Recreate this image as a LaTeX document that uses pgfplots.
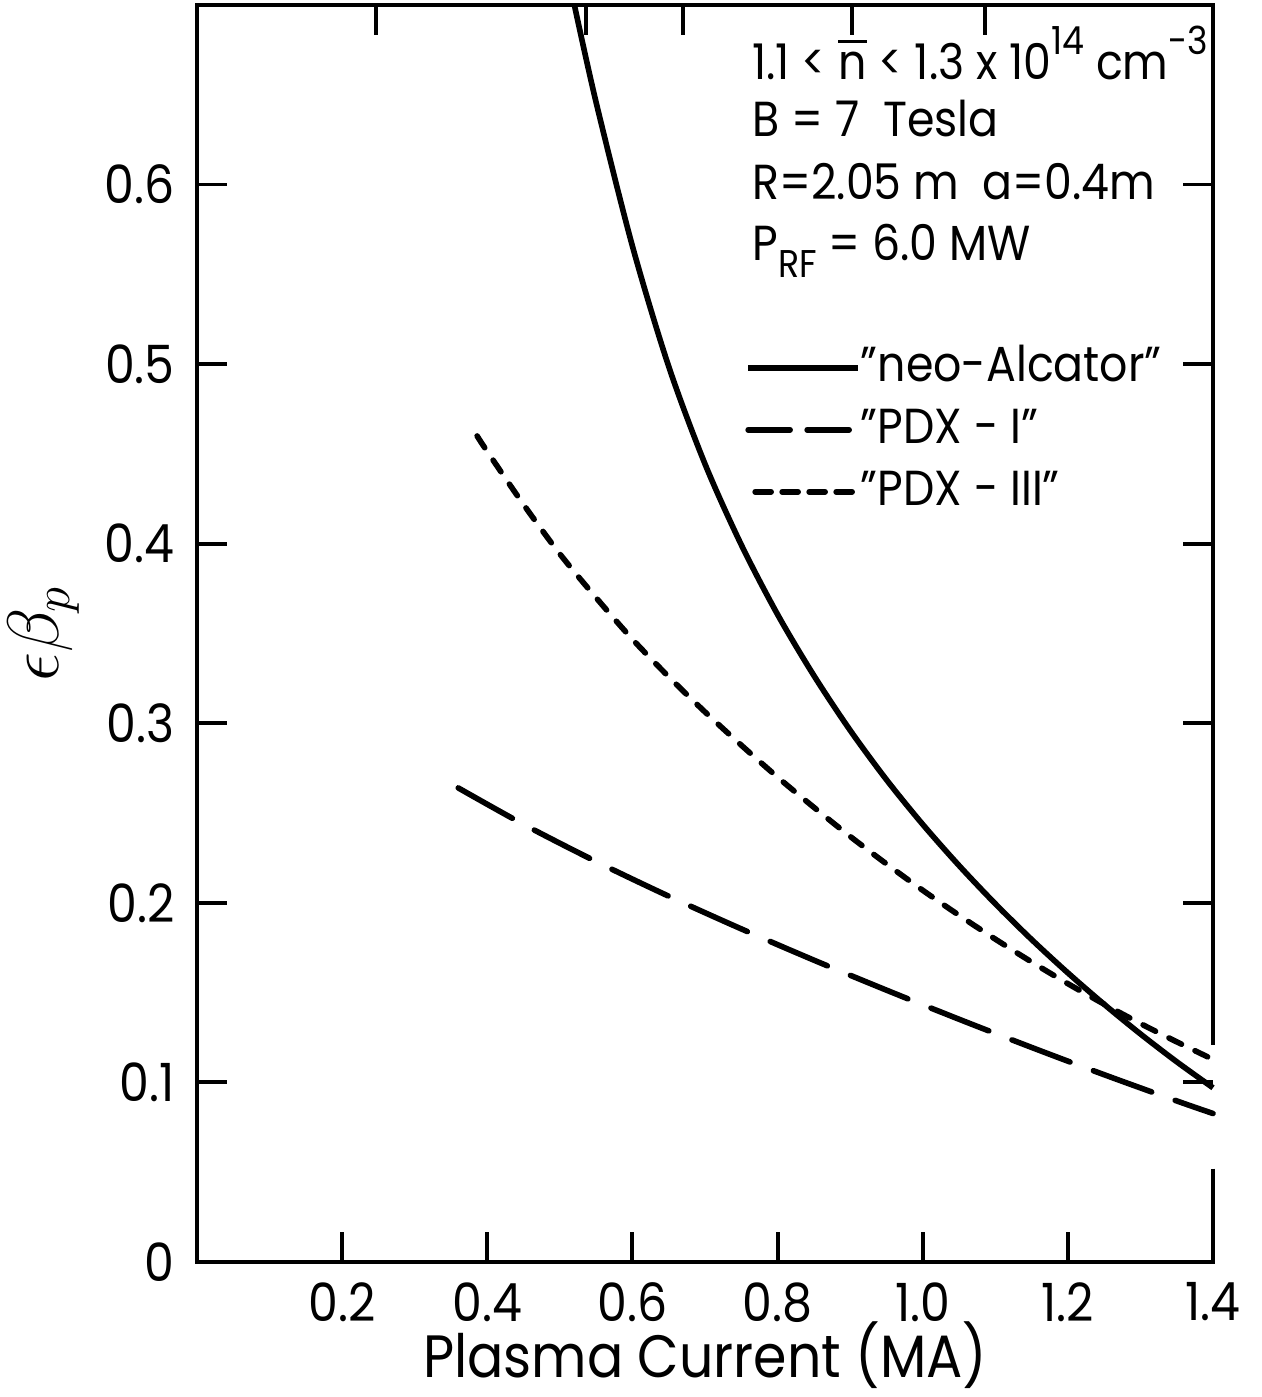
\documentclass[border=0pt]{standalone}
\usepackage{fontspec}
\setmainfont{Poppins}[FakeStretch=0.9]
\usepackage{pgfplots}
\pgfplotsset{compat=1.18}
\newcommand{\nbar}{{\setbox0\hbox{n}\rlap{\raisebox{1.3\ht0}{\rule{\wd0}{0.07em}}}\box0}}
\newcommand{\sups}[1]{\raisebox{0.5em}{\fontsize{11}{12}\selectfont #1}}
\newcommand{\subs}[1]{\raisebox{-0.35em}{\fontsize{11}{12}\selectfont #1}}

\pgfplotstableread{
x y
0.520 0.700
0.550 0.6457
0.600 0.5657
0.650 0.4987
0.700 0.4444
0.750 0.3994
0.800 0.3606
0.850 0.3266
0.900 0.2961
0.950 0.2686
1.000 0.2437
1.050 0.2208
1.100 0.1995
1.150 0.1796
1.200 0.1610
1.250 0.1435
1.300 0.1270
1.350 0.1115
1.400 0.0970
}\neoalc

\pgfplotstableread{
x y
0.360 0.2640
0.450 0.2437
0.550 0.2230
0.650 0.2037
0.750 0.1855
0.850 0.1681
0.950 0.1514
1.050 0.1352
1.150 0.1195
1.250 0.1043
1.350 0.0897
1.400 0.0827
}\pdxone

\pgfplotstableread{
x y
0.386 0.4600
0.400 0.4513
0.450 0.4218
0.500 0.3943
0.550 0.3699
0.600 0.3468
0.650 0.3259
0.700 0.3063
0.750 0.2878
0.800 0.2700
0.850 0.2532
0.900 0.2370
0.950 0.2217
1.000 0.2070
1.050 0.1931
1.100 0.1798
1.150 0.1671
1.200 0.1550
1.250 0.1436
1.300 0.1328
1.350 0.1226
1.400 0.1128
}\pdxthree

\begin{document}
\begin{tikzpicture}
\begin{axis}[name=ax, scale only axis, width=10.16cm, height=12.57cm,
  xmin=0, xmax=1.4, ymin=0, ymax=0.7, clip=false,
  axis line style={draw=none},
  tick align=inside, major tick length=0.3cm,
  every tick/.style={black, line width=1.1pt},
  xtick pos=left, ytick pos=both,
  xtick={0.2,0.4,0.6,0.8,1.0,1.2,1.4}, xticklabels={0.2,0.4,0.6,0.8,1.0,1.2,1.4},
  ytick={0,0.1,0.2,0.3,0.4,0.5,0.6}, yticklabels={0,0.1,0.2,0.3,0.4,0.5,0.6},
  ticklabel style={font=\fontsize{15}{18}\selectfont},
  /pgf/number format/assume math mode=true,
  xticklabel style={yshift=-0.08cm},
  yticklabel style={xshift=-0.1cm},
  xlabel={Plasma Current (MA)},
  xlabel style={font=\fontsize{17}{20}\selectfont, at={(axis description cs:0.5,-0.0745)}, anchor=center},
  ylabel={$\epsilon\beta_{p}$},
  ylabel style={font=\fontsize{20}{22}\selectfont, inner sep=0pt, at={(axis description cs:-0.151,0.5)}, anchor=center},
  legend style={draw=none, fill=none, at={(axis description cs:0.539,0.662)}, anchor=west,
    inner sep=0pt, font=\fontsize{14}{16}\selectfont, row sep=0.1cm,
    nodes={inner sep=0pt, text height=0.4cm, text depth=0.12cm}},
  legend cell align=left,
]
\addplot[black, line width=1.6pt, smooth,
  legend image code/.code={\draw[black, line width=1.6pt] (0cm,0cm) -- (1.1cm,0cm);}]
  table[x=x,y=y] {\neoalc};
\addlegendentry{"neo-Alcator"}
\addplot[black, line width=1.6pt, smooth, line cap=round, dash pattern=on 0.62cm off 0.25cm,
  legend image code/.code={\draw[black, line width=1.6pt, line cap=round, dash pattern=on 0.42cm off 0.17cm] (0cm,0cm) -- (1.1cm,0cm);}]
  table[x=x,y=y] {\pdxone};
\addlegendentry{"PDX - I"}
\addplot[black, line width=1.6pt, smooth, line cap=round, dash pattern=on 0.14cm off 0.15cm,
  legend image code/.code={\draw[black, line width=1.6pt, line cap=round, dash pattern=on 0.16cm off 0.11cm] (0.07cm,0cm) -- (1.1cm,0cm);}]
  table[x=x,y=y] {\pdxthree};
\addlegendentry{"PDX - III"}
\draw[line width=1.1pt] (rel axis cs:1,0.0743) -- (rel axis cs:1,0) -- (rel axis cs:0,0)
  -- (rel axis cs:0,1) -- (rel axis cs:1,1) -- (rel axis cs:1,0.1729);
\node[anchor=base west, inner sep=0pt, font=\fontsize{14}{16}\selectfont] at (axis description cs:0.546,0.941)
  {1.1 < \nbar{} < 1.3 x 10\sups{14} cm\sups{-3}};
\node[anchor=base west, inner sep=0pt, font=\fontsize{14}{16}\selectfont] at (axis description cs:0.546,0.895)
  {B = 7 \ Tesla};
\node[anchor=base west, inner sep=0pt, font=\fontsize{14}{16}\selectfont] at (axis description cs:0.546,0.845)
  {R=2.05 m \ a=0.4m};
\node[anchor=base west, inner sep=0pt, font=\fontsize{14}{16}\selectfont] at (axis description cs:0.546,0.797)
  {P\subs{RF} = 6.0 MW};
\end{axis}
\begin{axis}[at={(ax.south west)}, anchor=south west, scale only axis, width=10.16cm, height=12.57cm,
  xmin=0, xmax=1.4, ymin=0, ymax=0.7, axis line style={draw=none},
  xtick={0.2467,0.536,0.670,0.9026,1.0859}, xticklabels={}, xticklabel pos=left, ytick=\empty,
  xtick pos=right, tick align=inside, major tick length=0.3cm,
  every tick/.style={black, line width=1.1pt}]
\end{axis}
\pgfresetboundingbox
\path[use as bounding box] ([shift={(-1.97cm,-1.35cm)}]ax.south west) rectangle ([shift={(0.48cm,0.05cm)}]ax.north east);
\end{tikzpicture}
\end{document}
